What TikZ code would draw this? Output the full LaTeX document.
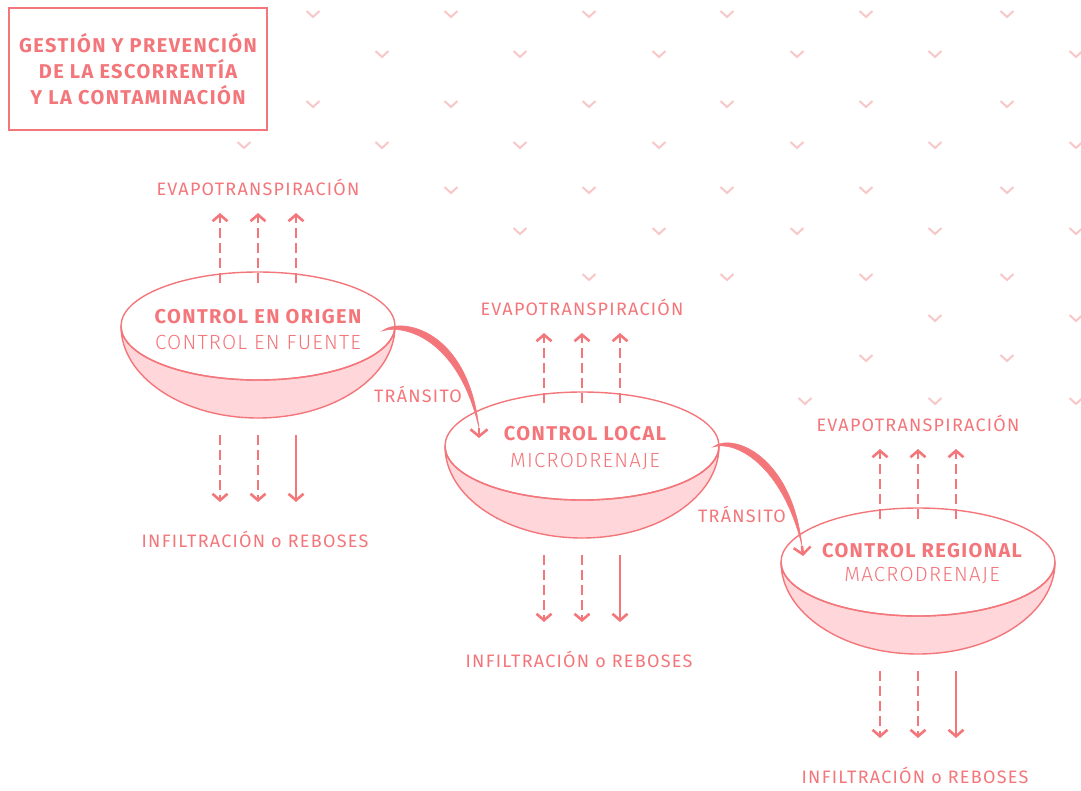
\documentclass[tikz,border=0pt]{standalone}
\usepackage{fontspec}
\setmainfont{Fira Sans}
\newfontfamily\espaciada[LetterSpace=7]{Fira Sans}
\newfontfamily\ligera[LetterSpace=6]{Fira Sans Light}
\usetikzlibrary{arrows.meta,calc}
\definecolor{tinta}{HTML}{F3767B}
\definecolor{rosa}{HTML}{FFD6D9}
\definecolor{marca}{HTML}{F8C8C9}

\begin{document}
\begin{tikzpicture}[x=1pt,y=-1pt,line width=1.4pt,
  punta/.style={-{Straight Barb[length=6.5pt,width=15pt]}},
  flecha/.style={draw=tinta,line width=2.6pt,punta},
  discont/.style={flecha,dash pattern=on 10pt off 5pt},
  cuenco/.style={draw=tinta,line width=1.4pt},
  rotulo/.style={text=tinta,font=\espaciada\fontsize{18}{20}\selectfont,inner sep=0pt,anchor=base},
  negrita/.style={rotulo,font=\espaciada\fontsize{20}{22}\selectfont\bfseries},
  fino/.style={rotulo,font=\ligera\fontsize{20.5}{22}\selectfont}]
\useasboundingbox (0,0) rectangle (1081,790);
% marcas de fondo
\foreach \x/\y in {313/14,451/14,589/14,727/14,866/14,1007/14,
  382/54,520/54,659/54,797/54,935/54,1076/54,
  313/104,451/104,589/104,727/104,866/104,1007/104,
  244/145,382/145,520/145,659/145,797/145,935/145,1076/145,
  451/190,589/190,727/190,866/190,1007/190,
  520/231,659/231,797/231,935/231,1076/231,
  589/277,727/277,866/277,1007/277,
  935/318,1076/318,
  866/358,1007/358,
  805/401,935/401,1076/401}
  \draw[marca,line width=2pt] (\x-6.5,\y-3) -- (\x,\y+3) -- (\x+6.5,\y-3);
% recuadro del titulo
\draw[tinta,line width=1.5pt] (9,8) rectangle (267,130);
\node[text=tinta,font=\espaciada\fontsize{20}{26.3}\selectfont\bfseries,align=center,inner sep=0pt]
  (titulo) at (138,69) {GESTIÓN Y PREVENCIÓN\\DE LA ESCORRENTÍA\\Y LA CONTAMINACIÓN};
% cuencos
\coordinate (b1) at (258,326);
\coordinate (b2) at (582,446);
\coordinate (b3) at (918,562);
\foreach \b in {1,2,3} {
  \filldraw[cuenco,fill=rosa] ($(b\b)+(-137,0)$)
    arc[start angle=180,end angle=360,x radius=137pt,y radius=92pt]
    arc[start angle=0,end angle=-180,x radius=137pt,y radius=54pt] -- cycle;
  \draw[cuenco] (b\b) ellipse[x radius=137pt,y radius=54pt];
}
\node[negrita] (origen) at (258,323) {CONTROL EN ORIGEN};
\node[fino] (fuente) at (258,349) {CONTROL EN FUENTE};
\node[negrita] (local) at (585,440) {CONTROL LOCAL};
\node[fino] (micro) at (585,467) {MICRODRENAJE};
\node[negrita] (regional) at (922,557) {CONTROL REGIONAL};
\node[fino] (macro) at (922,581) {MACRODRENAJE};
% evapotranspiracion e infiltracion
\foreach \b in {1,2,3} {
  \node[rotulo] (evap\b) at ($(b\b)+(0,-131)$) {EVAPOTRANSPIRACIÓN};
  \node[rotulo] (infil\b) at ($(b\b)+(-3,221)$) {INFILTRACIÓN o REBOSES};
  \foreach \dx in {-38,0,38}
    \draw[discont] ($(b\b)+(\dx,-43)$) -- ++(0,-70);
  \draw[discont] ($(b\b)+(-38,109)$) -- ++(0,67);
  \draw[discont] ($(b\b)+(0,109)$) -- ++(0,67);
  \draw[flecha] ($(b\b)+(38,109)$) -- ++(0,67);
}
% transito entre cuencos
\coordinate (o1) at (382,331);
\coordinate (e1) at (479,428);
\coordinate (v1) at (479,438);
\coordinate (o2) at (713,447);
\coordinate (e2) at (802,546);
\coordinate (v2) at (803,556);
\filldraw[tinta,line width=0.5pt] (o1) .. controls +(20,-15) and +(-11,-98) .. (e1)
  .. controls +(-21,-90) and +(22,-7) .. (o1) -- cycle;
\filldraw[tinta,line width=0.5pt] (o2) .. controls +(20,-15) and +(-10,-90) .. (e2)
  .. controls +(-20,-82) and +(22,-7) .. (o2) -- cycle;
\draw[tinta,line width=2.6pt,-{Straight Barb[length=7pt,width=17pt]}] (e1) -- (v1);
\draw[tinta,line width=2.6pt,-{Straight Barb[length=7pt,width=17pt]}] (e2) -- (v2);
\node[rotulo] (transito1) at (418,402) {TRÁNSITO};
\node[rotulo] (transito2) at (742,522) {TRÁNSITO};
\end{tikzpicture}
\end{document}
